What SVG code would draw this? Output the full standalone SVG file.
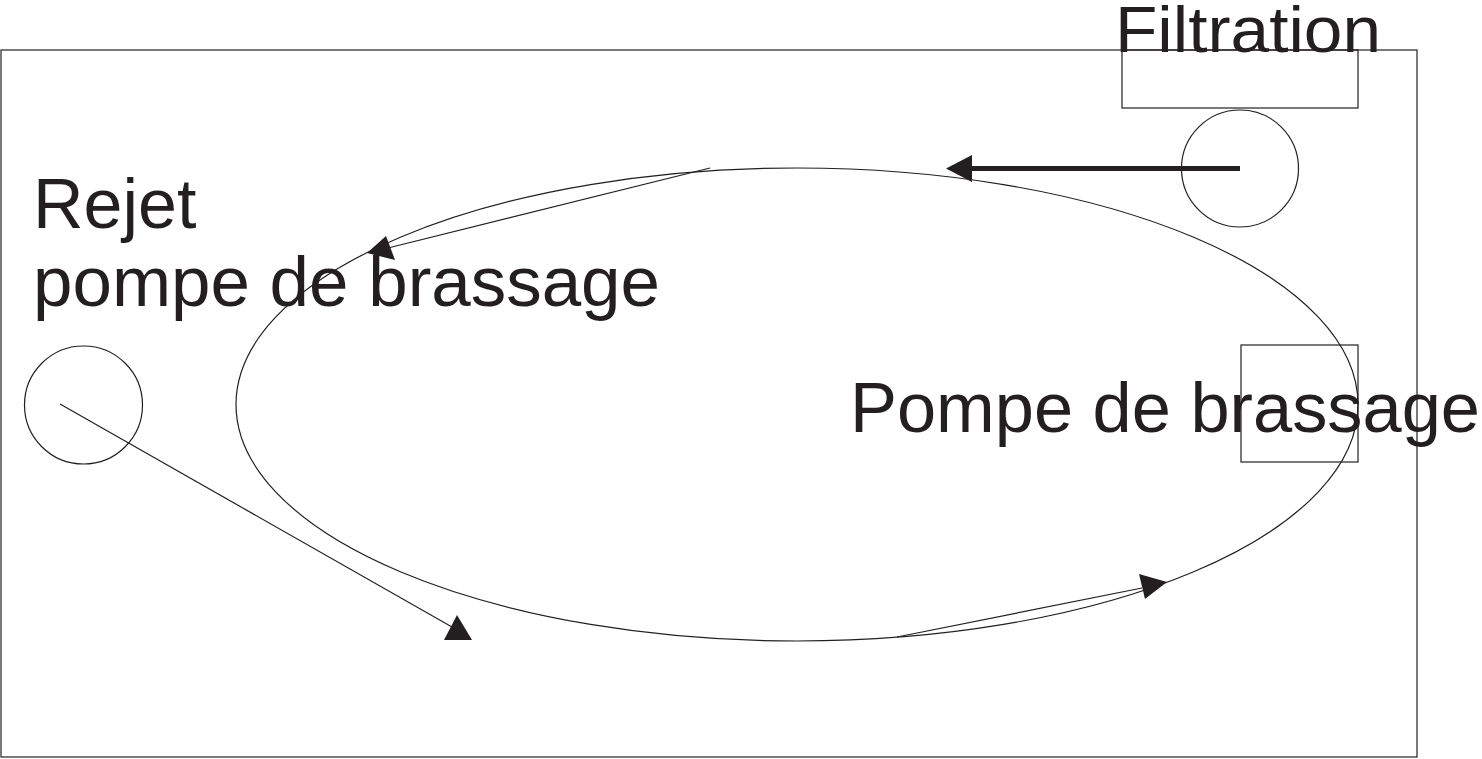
<svg xmlns="http://www.w3.org/2000/svg" width="1482" height="759" viewBox="0 0 1482 759">
<style>
.ln{fill:none;stroke:#231f20;stroke-width:1.2}
.hd{fill:#231f20;stroke:none}
.tx{font-family:"Liberation Sans",Arial,sans-serif;font-size:70px;fill:#231f20}
</style>
<rect width="1482" height="759" fill="#fff"/>
<g id="tank"><rect class="ln" x="1" y="50" width="1416" height="707"/></g>
<g id="filtration">
<rect class="ln" x="1122" y="50" width="236" height="58"/>
<text class="tx" x="1115" y="52" style="font-size:65px" textLength="266" lengthAdjust="spacingAndGlyphs">Filtration</text>
</g>
<g id="filtration-outlet"><circle class="ln" cx="1240" cy="168.5" r="58.5"/></g>
<g id="pompe">
<rect class="ln" x="1241" y="345" width="117" height="117"/>
<text class="tx" x="850" y="432" textLength="630" lengthAdjust="spacingAndGlyphs">Pompe de brassage</text>
</g>
<g id="rejet">
<circle class="ln" cx="83.5" cy="405" r="59"/>
<text class="tx" x="33" y="228">Rejet</text>
<text class="tx" x="33" y="306" textLength="627" lengthAdjust="spacingAndGlyphs">pompe de brassage</text>
</g>
<g id="connectors">
<ellipse class="ln" cx="797" cy="404.5" rx="561" ry="236.5"/>
<line x1="1240" y1="168.5" x2="968" y2="168.5" stroke="#231f20" stroke-width="5"/>
<polygon class="hd" points="946,168.5 972,155 972,182"/>
<line class="ln" x1="710" y1="168" x2="388" y2="248"/>
<polygon class="hd" points="367,253 386,236 395,260"/>
<line class="ln" x1="897" y1="637" x2="1142" y2="588"/>
<polygon class="hd" points="1167,582 1139,574 1145,599"/>
<line class="ln" x1="60" y1="404" x2="452" y2="627"/>
<polygon class="hd" points="457,615 444,640 472,640"/>
</g>
</svg>
